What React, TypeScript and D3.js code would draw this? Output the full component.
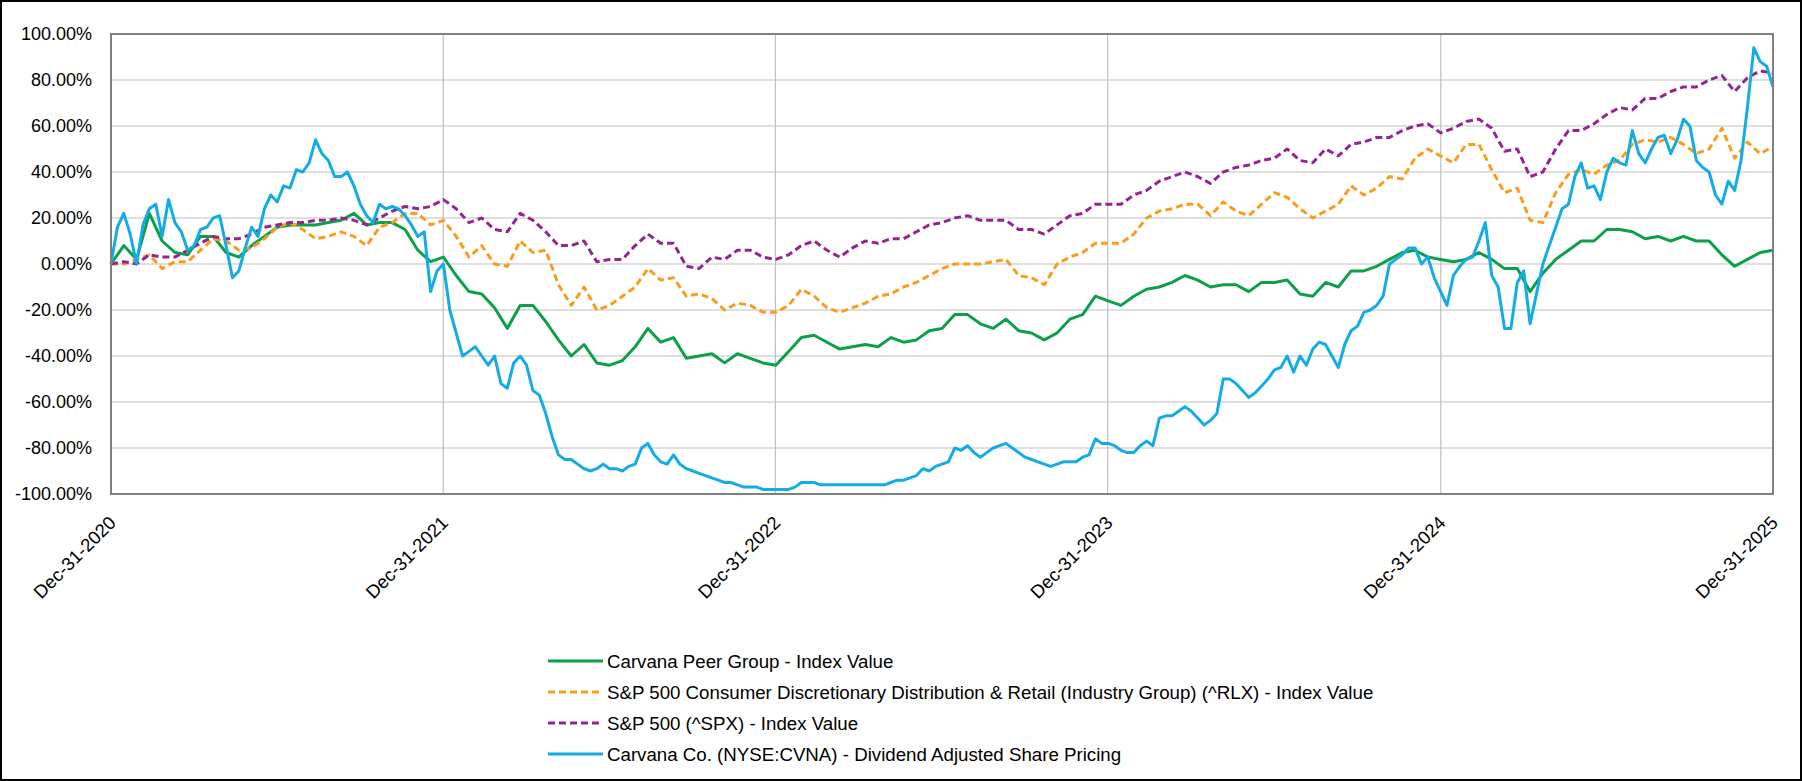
import React from "react";
import * as d3 from "d3";

// ---- Data (percent change, cumulative) ----
const xTickLabels = ["Dec-31-2020", "Dec-31-2021", "Dec-31-2022", "Dec-31-2023", "Dec-31-2024", "Dec-31-2025"];
const xTickDates = ["2020-12-31", "2021-12-31", "2022-12-31", "2023-12-31", "2024-12-31", "2025-12-31"];
const yTicks = [-100, -80, -60, -40, -20, 0, 20, 40, 60, 80, 100];

// Bi-weekly sampled index values
const peerGroup = [
  0, 8, 2, 22, 10, 5, 4, 12, 12, 5, 3, 8, 12, 16, 17, 17, 17, 18, 19, 22, 17, 18, 18, 15, 6, 1, 3,
  -5, -12, -13, -19, -28, -18, -18, -25, -33, -40, -35, -43, -44, -42, -36, -28, -34, -32, -41, -40, -39, -43, -39, -41, -43, -44,
  -38, -32, -31, -34, -37, -36, -35, -36, -32, -34, -33, -29, -28, -22, -22, -26, -28, -24, -29, -30, -33, -30, -24, -22, -14, -16,
  -18, -14, -11, -10, -8, -5, -7, -10, -9, -9, -12, -8, -8, -7, -13, -14, -8, -10, -3, -3, -1, 2, 5, 6, 3, 2,
  1, 2, 5, 2, -2, -2, -12, -4, 2, 6, 10, 10, 15, 15, 14, 11, 12, 10, 12, 10, 10, 4, -1, 2, 5, 6,
];
const rlx = [
  0, 0, 2, 4, -2, 1, 1, 6, 11, 10, 6, 7, 11, 16, 18, 15, 11, 12, 14, 12, 8, 16, 18, 22, 22, 17, 19,
  12, 3, 8, 0, -1, 10, 5, 6, -9, -18, -10, -20, -18, -14, -10, -2, -7, -6, -14, -13, -15, -20, -17, -18, -21, -21,
  -18, -11, -14, -19, -21, -19, -17, -14, -13, -10, -8, -5, -2, 0, 0, 0, 1, 2, -5, -6, -9, 0, 3, 5, 9, 9,
  9, 13, 20, 23, 24, 26, 26, 21, 27, 23, 21, 26, 31, 29, 24, 20, 23, 26, 34, 30, 33, 38, 37, 46, 50, 47,
  44, 52, 52, 41, 31, 33, 19, 18, 31, 39, 41, 39, 43, 45, 52, 54, 53, 55, 52, 48, 50, 59, 46, 53, 48, 51,
];
const spx = [
  0, 1, 0, 4, 3, 3, 6, 9, 12, 11, 11, 13, 16, 17, 18, 18, 19, 19, 20, 19, 17, 20, 23, 25, 24, 25, 28,
  24, 18, 20, 15, 14, 22, 19, 14, 8, 8, 10, 1, 2, 2, 8, 13, 9, 9, -1, -2, 3, 2, 6, 6, 3, 2,
  4, 8, 10, 6, 3, 7, 10, 9, 11, 11, 14, 17, 18, 20, 21, 19, 19, 19, 15, 15, 13, 17, 21, 22, 26, 26,
  26, 30, 32, 36, 38, 40, 38, 35, 40, 42, 43, 45, 46, 50, 45, 44, 50, 47, 52, 53, 55, 55, 58, 60, 61, 57,
  59, 62, 63, 59, 49, 50, 38, 40, 50, 58, 58, 61, 65, 68, 67, 72, 72, 75, 77, 77, 80, 82, 75, 81, 84, 83,
];
// Weekly sampled share price change
const cvna = [
  0, 16, 22, 13, 0, 17, 24, 26, 12, 28, 18, 14, 6, 8, 15, 16, 20, 21, 8, -6, -3, 7, 16, 12, 24, 30, 27, 34, 33, 41, 40, 44, 54, 48, 45, 38, 38, 40, 34, 26, 21, 18, 26, 24, 25, 24, 21, 17, 12, 14, -12, -3, 0,
  -20, -30, -40, -38, -36, -40, -44, -40, -52, -54, -43, -40, -44, -55, -57, -65, -75, -83, -85, -85, -87, -89, -90, -89, -87, -89, -89, -90, -88, -87, -80, -78, -83, -86, -87, -83, -87, -89, -90, -91, -92, -93, -94, -95, -95, -96, -97, -97, -97, -98, -98, -98,
  -98, -98, -97, -95, -95, -95, -96, -96, -96, -96, -96, -96, -96, -96, -96, -96, -96, -95, -94, -94, -93, -92, -89, -90, -88, -87, -86, -80, -81, -79, -82, -84, -82, -80, -79, -78, -80, -82, -84, -85, -86, -87, -88, -87, -86, -86, -86, -84, -83, -76, -78, -78,
  -79, -81, -82, -82, -79, -77, -79, -67, -66, -66, -64, -62, -64, -67, -70, -68, -65, -50, -50, -52, -55, -58, -56, -53, -50, -46, -45, -40, -47, -40, -44, -37, -34, -35, -40, -45, -35, -29, -27, -21, -20, -18, -14, 0, 2, 4, 7, 7, 0, 3, -6, -12,
  -18, -5, -1, 2, 3, 10, 18, -5, -10, -28, -28, -8, -3, -26, -13, 0, 8, 16, 24, 26, 38, 44, 33, 34, 28, 40, 46, 44, 43, 58, 48, 44, 50, 55, 56, 48, 54, 63, 60, 45, 42, 40, 30, 26, 36, 32, 45, 68, 94, 88, 86, 77,
];

const seriesNames = [
  "Carvana Peer Group - Index Value",
  "S&P 500 Consumer Discretionary Distribution & Retail (Industry Group) (^RLX) - Index Value",
  "S&P 500 (^SPX) - Index Value",
  "Carvana Co. (NYSE:CVNA) - Dividend Adjusted Share Pricing",
];
const seriesData = [peerGroup, rlx, spx, cvna];
const seriesColors = ["#0DA04A", "#F89D1E", "#93278F", "#14ACE4"];
const seriesDash = [null, "7 4", "7 4", null];

const W = 1802;
const H = 781;
const plot = { left: 111, top: 34, right: 1773, bottom: 494 };
const FONT = "'Liberation Sans', Arial, sans-serif";

export default function App() {
  const start = new Date(xTickDates[0]);
  const end = new Date(xTickDates[xTickDates.length - 1]);
  const x = d3.scaleTime().domain([start, end]).range([plot.left, plot.right]);
  const y = d3.scaleLinear().domain([-100, 100]).range([plot.bottom, plot.top]);

  const lineFor = (vals: number[]) => {
    const n = vals.length;
    const span = end.getTime() - start.getTime();
    const pts = vals.map((v, i) => [new Date(start.getTime() + (i / (n - 1)) * span), v] as [Date, number]);
    return d3
      .line<[Date, number]>()
      .x((d) => x(d[0]))
      .y((d) => y(d[1]))(pts) as string;
  };

  const legendX = 548;
  const legendY0 = 661;
  const legendStep = 31;

  return (
    <svg width={W} height={H} style={{ position: "absolute", left: 0, top: 0, background: "#fff" }}>
      <rect x={1} y={1} width={W - 2} height={H - 2} fill="#fff" stroke="#000" strokeWidth={2} />
      {yTicks.map((t) => (
        <line key={"h" + t} x1={plot.left} x2={plot.right} y1={y(t)} y2={y(t)} stroke="#BFBFBF" strokeWidth={1.2} />
      ))}
      {xTickDates.map((d) => (
        <line key={"v" + d} x1={x(new Date(d))} x2={x(new Date(d))} y1={plot.top} y2={plot.bottom} stroke="#BFBFBF" strokeWidth={1.2} />
      ))}
      {seriesData.map((vals, i) => (
        <path
          key={"s" + i}
          d={lineFor(vals)}
          fill="none"
          stroke={seriesColors[i]}
          strokeWidth={3}
          strokeDasharray={seriesDash[i] ?? undefined}
          strokeLinejoin="round"
        />
      ))}
      <rect
        x={plot.left}
        y={plot.top}
        width={plot.right - plot.left}
        height={plot.bottom - plot.top}
        fill="none"
        stroke="#808080"
        strokeWidth={2}
      />
      {yTicks.map((t) => (
        <text key={"yl" + t} x={92} y={y(t)} dy="0.36em" textAnchor="end" fontFamily={FONT} fontSize={18} fill="#000">
          {t.toFixed(2) + "%"}
        </text>
      ))}
      {xTickDates.map((d, i) => {
        const px = x(new Date(d)) + 6;
        const py = 524;
        return (
          <text
            key={"xl" + d}
            transform={`translate(${px},${py}) rotate(-45)`}
            textAnchor="end"
            fontFamily={FONT}
            fontSize={18.5}
            fill="#000"
          >
            {xTickLabels[i]}
          </text>
        );
      })}
      {seriesNames.map((name, i) => {
        const ly = legendY0 + i * legendStep;
        return (
          <g key={"lg" + i}>
            <line
              x1={legendX}
              x2={legendX + 55}
              y1={ly}
              y2={ly}
              stroke={seriesColors[i]}
              strokeWidth={3}
              strokeDasharray={seriesDash[i] ?? undefined}
            />
            <text x={legendX + 59} y={ly} dy="0.36em" fontFamily={FONT} fontSize={18.7} fill="#000">
              {name}
            </text>
          </g>
        );
      })}
    </svg>
  );
}
